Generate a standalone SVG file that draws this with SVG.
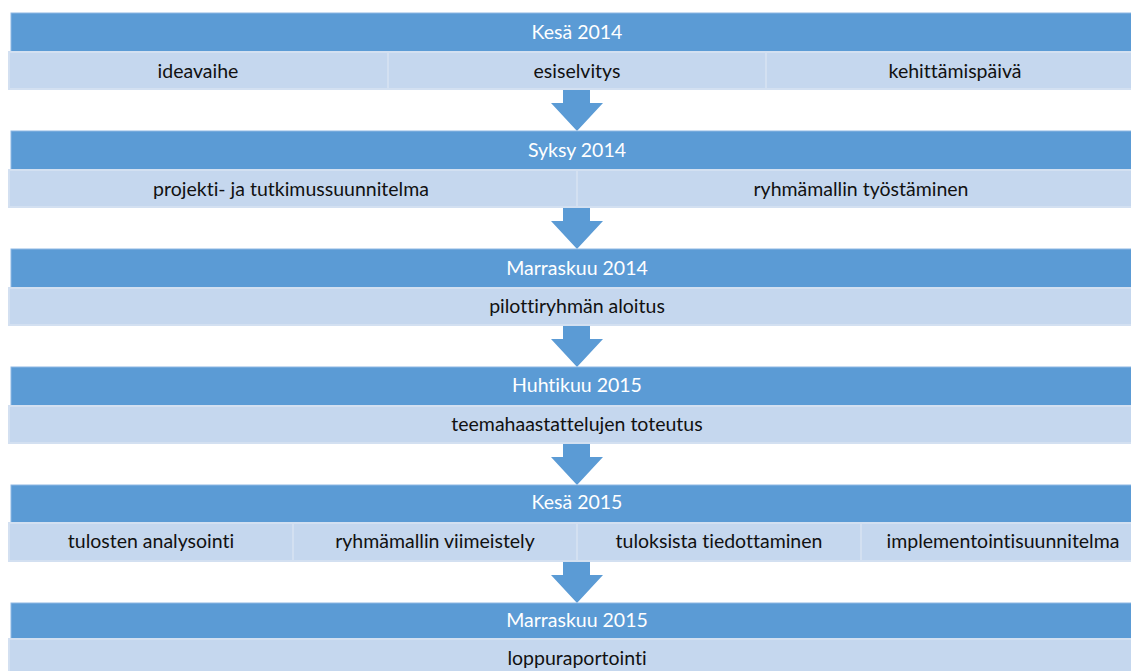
<svg xmlns="http://www.w3.org/2000/svg" width="1131" height="671" viewBox="0 0 1131 671">
<style>
.hd{fill:#5B9BD5;stroke:#8DB7E3;stroke-width:1}
.cell{fill:#C5D7EE;stroke:#D3E0F1;stroke-width:2}
.arr{fill:#5B9BD5}
.ht{font-family:Lato,"Liberation Sans",sans-serif;font-size:19.5px;fill:#FFFFFF;text-anchor:middle;font-variant-ligatures:none}
.ct{font-family:Lato,"Liberation Sans",sans-serif;font-size:19.5px;fill:#111111;text-anchor:middle;font-variant-ligatures:none}
</style>
<rect width="1131" height="671" fill="#FFFFFF"/>
<g id="connectors">
<path class="arr" d="M563,90 H590 V103 H603 L577,131 L551,103 H563 Z"/>
<path class="arr" d="M563,208 H590 V221 H603 L577,249 L551,221 H563 Z"/>
<path class="arr" d="M563,326 H590 V339 H603 L577,367 L551,339 H563 Z"/>
<path class="arr" d="M563,444 H590 V457 H603 L577,485 L551,457 H563 Z"/>
<path class="arr" d="M563,562 H590 V575 H603 L577,603 L551,575 H563 Z"/>
</g>
<g id="kesa2014">
<rect class="hd" x="11" y="13" width="1132" height="39"/>
<text class="ht" x="577" y="39">Kesä 2014</text>
<rect class="cell" x="9" y="52" width="379" height="37"/>
<rect class="cell" x="388" y="52" width="378" height="37"/>
<rect class="cell" x="766" y="52" width="379" height="37"/>
<text class="ct" x="198" y="78">ideavaihe</text>
<text class="ct" x="577" y="78">esiselvitys</text>
<text class="ct" x="955" y="78">kehittämispäivä</text>
</g>
<g id="syksy2014">
<rect class="hd" x="11" y="131" width="1132" height="39"/>
<text class="ht" x="577" y="157">Syksy 2014</text>
<rect class="cell" x="9" y="170" width="568" height="37"/>
<rect class="cell" x="577" y="170" width="568" height="37"/>
<text class="ct" x="291" y="196">projekti- ja tutkimussuunnitelma</text>
<text class="ct" x="861" y="196">ryhmämallin työstäminen</text>
</g>
<g id="marraskuu2014">
<rect class="hd" x="11" y="249" width="1132" height="39"/>
<text class="ht" x="577" y="275">Marraskuu 2014</text>
<rect class="cell" x="9" y="288" width="1136" height="37"/>
<text class="ct" x="577" y="313">pilottiryhmän aloitus</text>
</g>
<g id="huhtikuu2015">
<rect class="hd" x="11" y="367" width="1132" height="39"/>
<text class="ht" x="577" y="392">Huhtikuu 2015</text>
<rect class="cell" x="9" y="406" width="1136" height="37"/>
<text class="ct" x="577" y="431">teemahaastattelujen toteutus</text>
</g>
<g id="kesa2015">
<rect class="hd" x="11" y="485" width="1132" height="38"/>
<text class="ht" x="577" y="509">Kesä 2015</text>
<rect class="cell" x="9" y="523" width="284" height="38"/>
<rect class="cell" x="293" y="523" width="284" height="38"/>
<rect class="cell" x="577" y="523" width="284" height="38"/>
<rect class="cell" x="861" y="523" width="284" height="38"/>
<text class="ct" x="151" y="548">tulosten analysointi</text>
<text class="ct" x="435" y="548">ryhmämallin viimeistely</text>
<text class="ct" x="719" y="548">tuloksista tiedottaminen</text>
<text class="ct" x="1003" y="548">implementointisuunnitelma</text>
</g>
<g id="marraskuu2015">
<rect class="hd" x="11" y="603" width="1132" height="36"/>
<text class="ht" x="577" y="627">Marraskuu 2015</text>
<rect class="cell" x="9" y="639" width="1136" height="37"/>
<text class="ct" x="577" y="665">loppuraportointi</text>
</g>
</svg>
